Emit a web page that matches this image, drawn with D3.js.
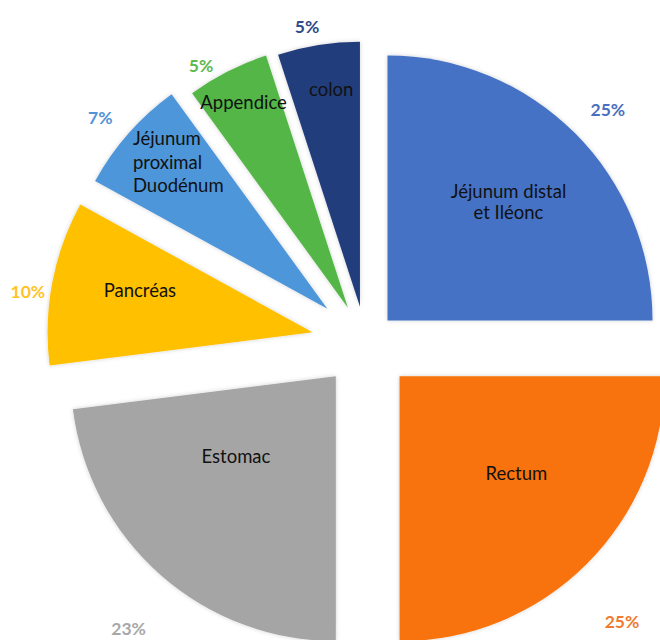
<!DOCTYPE html>
<html><head><meta charset="utf-8">
<script src="https://cdn.jsdelivr.net/npm/d3@7"></script>
<style>body{margin:0;background:#fff} svg{display:block}</style>
</head><body>
<script>
// ---- data ----
const categories = ["Jéjunum distal|et Iléonc", "Rectum", "Estomac", "Pancréas", "Jéjunum|proximal|Duodénum", "Appendice", "colon"];
const values = [25, 25, 23, 10, 7, 5, 5];
const percentLabels = ["25%", "25%", "23%", "10%", "7%", "5%", "5%"];

// ---- style / layout ----
const sliceColors = ["#4472C4", "#F87308", "#A5A5A5", "#FFC000", "#4E96DA", "#52B646", "#233D7B"];
const pctColors   = ["#4A6FC0", "#F07B2E", "#A8A8A8", "#FFC326", "#5294D6", "#5DBA4E", "#2F4A88"];
const explode = [31, 48, 45, 54, 51, 39, 36];          // px, per slice
const inAngleDelta = [0.5, -5.4, 9.9, 3, 3.2, 0.1, 1.5]; // degrees
const inRadiusK = [0.64, 0.572, 0.483, 0.671, 0.79, 0.87, 0.83];
const outAngleDelta = [1.3, 2.8, -2, -2.7, -1.3, -4.2, -1.7];
const outRadiusK = [1.15, 1.25, 1.232, 1.085, 1.12, 1.07, 1.075];
const leftAligned = [false, false, false, false, true, false, false];
const lineH = [21.5, 20, 20, 20, 23.5, 20, 20];

const W = 660, H = 640, cx = 365.6, cy = 342.4, R = 265;

const svg = d3.select("body").append("svg").attr("width", W).attr("height", H);
const defs = svg.append("defs");
const f = defs.append("filter").attr("id", "sh").attr("x", "-20%").attr("y", "-20%").attr("width", "140%").attr("height", "140%");
f.append("feDropShadow").attr("dx", 0).attr("dy", 0).attr("stdDeviation", 2.2).attr("flood-color", "#000").attr("flood-opacity", 0.18);

const pie = d3.pie().sort(null).value(d => d)(values);
const arc = d3.arc().innerRadius(0).outerRadius(R);
const rad = a => a * Math.PI / 180;
const polar = (a, r) => [Math.sin(a) * r, -Math.cos(a) * r];

const g = svg.append("g").attr("transform", `translate(${cx},${cy})`);

pie.forEach((p, i) => {
  const mid = (p.startAngle + p.endAngle) / 2;
  const [ox, oy] = polar(mid, explode[i]);
  const sg = g.append("g").attr("transform", `translate(${ox},${oy})`);
  sg.append("path").attr("d", arc(p)).attr("fill", sliceColors[i]).attr("filter", "url(#sh)");

  // inner category label
  const [lx, ly] = polar(mid + rad(inAngleDelta[i]), R * inRadiusK[i]);
  const lines = categories[i].split("|");
  const t = sg.append("text")
    .attr("font-family", "Lato, 'Open Sans', sans-serif")
    .attr("font-size", 18.5)
    .attr("fill", "#111")
    .attr("text-anchor", leftAligned[i] ? "start" : "middle");
  lines.forEach((ln, k) => {
    t.append("tspan").attr("x", lx).attr("y", ly + (k - (lines.length - 1) / 2) * lineH[i])
      .attr("dominant-baseline", "central").text(ln);
  });
  if (leftAligned[i]) {
    const bw = t.node().getBBox().width;
    t.selectAll("tspan").attr("x", lx - bw / 2);
  }

  // outer percent label
  const [px, py] = polar(mid + rad(outAngleDelta[i]), R * outRadiusK[i]);
  sg.append("text")
    .attr("x", px).attr("y", py)
    .attr("text-anchor", "middle").attr("dominant-baseline", "central")
    .attr("font-family", "Lato, 'Open Sans', sans-serif")
    .attr("font-weight", "bold").attr("font-size", 17.5)
    .attr("fill", pctColors[i])
    .text(percentLabels[i]);
});
</script>
</body></html>
